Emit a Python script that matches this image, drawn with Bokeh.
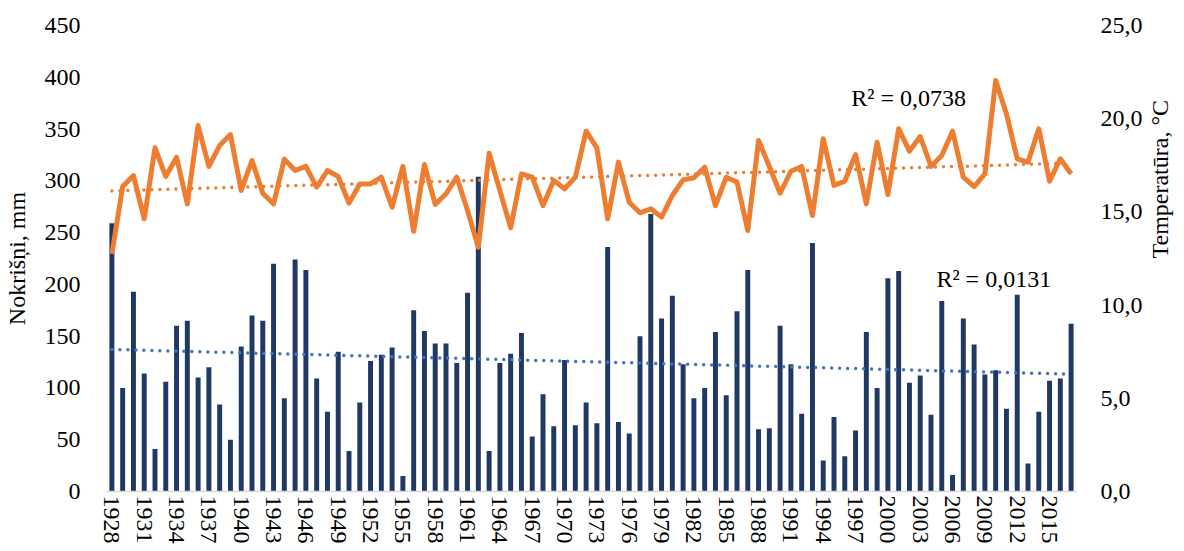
import math
import numpy as np
from bokeh.plotting import figure
from bokeh.models import Range1d, LinearAxis, FixedTicker, Label, ColumnDataSource
from bokeh.embed import file_html
from bokeh.resources import INLINE

years = list(range(1928, 2018))
precip = [259, 100, 193, 114, 41, 106, 160, 165, 110, 120,
          84, 50, 140, 170, 165, 220, 90, 224, 214, 109,
          77, 135, 39, 86, 126, 132, 139, 15, 175, 155,
          143, 143, 124, 192, 304, 39, 124, 133, 153, 53,
          94, 63, 127, 64, 86, 66, 236, 67, 56, 150,
          268, 167, 189, 123, 90, 100, 154, 93, 174, 214,
          60, 61, 160, 123, 75, 240, 30, 72, 34, 59,
          154, 100, 206, 213, 105, 112, 74, 184, 16, 167,
          142, 113, 117, 80, 190, 27, 77, 107, 109, 162]
temp = [12.75, 16.36, 16.95, 14.63, 18.44, 16.9, 17.93, 15.43, 19.63, 17.44,
        18.56, 19.15, 16.15, 17.76, 16.0, 15.43, 17.83, 17.22, 17.44, 16.33,
        17.22, 16.9, 15.47, 16.5, 16.5, 16.86, 15.25, 17.44, 13.96, 17.54,
        15.4, 15.97, 16.86, 15.07, 13.1, 18.15, 16.15, 14.15, 17.04, 16.86,
        15.34, 16.68, 16.24, 16.86, 19.33, 18.44, 14.63, 17.67, 15.52, 14.95,
        15.17, 14.72, 15.88, 16.72, 16.83, 17.4, 15.34, 16.86, 16.6, 14.0,
        18.83, 17.44, 16.0, 17.18, 17.44, 14.81, 18.92, 16.42, 16.65, 18.08,
        15.43, 18.74, 15.93, 19.46, 18.26, 19.04, 17.44, 18.03, 19.33, 16.86,
        16.36, 17.04, 22.05, 20.26, 17.85, 17.67, 19.46, 16.65, 17.85, 17.04]
x_ticks = list(range(1928, 2018, 3))
left_ticks = list(range(0, 451, 50))
right_ticks = [0, 5, 10, 15, 20, 25]
right_labels = ["0,0", "5,0", "10,0", "15,0", "20,0", "25,0"]
left_title = "Nokrišņi, mm"
right_title = "Temperatūra, °C"
r2_temp_text = "R² = 0,0738"
r2_prec_text = "R² = 0,0131"

FONT = "Times New Roman"
FS = "24px"

yr = np.array(years, dtype=float)
pc = np.polyfit(yr, np.array(precip, dtype=float), 1)
tc = np.polyfit(yr, np.array(temp, dtype=float), 1)
trend_x = [years[0], years[-1]]
prec_trend = [float(np.polyval(pc, v)) for v in trend_x]
temp_trend = [float(np.polyval(tc, v)) for v in trend_x]

src = ColumnDataSource(dict(year=years, precip=precip, temp=temp))

p = figure(frame_width=970, frame_height=466, output_backend="svg", toolbar_location=None,
           x_range=Range1d(years[0] - 0.5, years[-1] + 0.5),
           y_range=Range1d(0, 450),
           min_border_left=105, min_border_right=5,
           min_border_top=25, min_border_bottom=5)
p.outline_line_color = None
p.background_fill_color = "white"
p.border_fill_color = "white"
p.grid.visible = False
p.extra_y_ranges = {"temp": Range1d(0, 25)}

p.vbar(x="year", top="precip", width=0.46, source=src,
       fill_color="#1F3864", line_color=None)
p.line(trend_x, prec_trend, line_color="#4472C4", line_width=3.5,
       line_dash="0 8", line_cap="round")
p.line(x="year", y="temp", source=src, y_range_name="temp",
       line_color="#ED7D31", line_width=5, line_join="round")
p.line(trend_x, temp_trend, y_range_name="temp", line_color="#ED7D31",
       line_width=3.5, line_dash="0 8", line_cap="round")

# x axis
xa = p.xaxis[0]
xa.ticker = FixedTicker(ticks=x_ticks)
xa.major_label_orientation = "vertical"
xa.major_label_text_font = FONT
xa.major_label_text_font_size = FS
xa.major_label_text_color = "black"
xa.major_label_standoff = -2
xa.major_tick_line_color = None
xa.minor_tick_line_color = None
xa.axis_line_color = "#D9D9D9"
xa.axis_line_width = 1.5

# left axis
ya = p.yaxis[0]
ya.ticker = FixedTicker(ticks=left_ticks)
ya.axis_label = left_title
ya.axis_label_text_font = FONT
ya.axis_label_text_font_size = FS
ya.axis_label_text_font_style = "normal"
ya.axis_label_text_color = "black"
ya.axis_label_standoff = 12
ya.major_label_text_font = FONT
ya.major_label_text_font_size = FS
ya.major_label_text_color = "black"
ya.major_label_standoff = 20
ya.major_tick_line_color = None
ya.minor_tick_line_color = None
ya.axis_line_color = None

# right axis
ra = LinearAxis(y_range_name="temp", ticker=FixedTicker(ticks=right_ticks))
ra.major_label_overrides = {t: l for t, l in zip(right_ticks, right_labels)}
ra.axis_label = right_title
ra.axis_label_text_font = FONT
ra.axis_label_text_font_size = FS
ra.axis_label_text_font_style = "normal"
ra.axis_label_text_color = "black"
ra.axis_label_text_align = "center"
ra.axis_label_standoff = 14
if "axis_label_orientation" in ra.properties():
    ra.axis_label_orientation = math.pi / 2
ra.major_label_text_font = FONT
ra.major_label_text_font_size = FS
ra.major_label_text_color = "black"
ra.major_label_standoff = 18
ra.major_tick_line_color = None
ra.minor_tick_line_color = None
ra.axis_line_color = None
p.add_layout(ra, "right")

p.add_layout(Label(x=1996.6, y=380, text=r2_temp_text, text_font=FONT,
                   text_font_size=FS, text_color="black", text_baseline="alphabetic"))
p.add_layout(Label(x=2004.5, y=205, text=r2_prec_text, text_font=FONT,
                   text_font_size=FS, text_color="black", text_baseline="alphabetic"))

open("out.html", "w").write(file_html(p, INLINE))
